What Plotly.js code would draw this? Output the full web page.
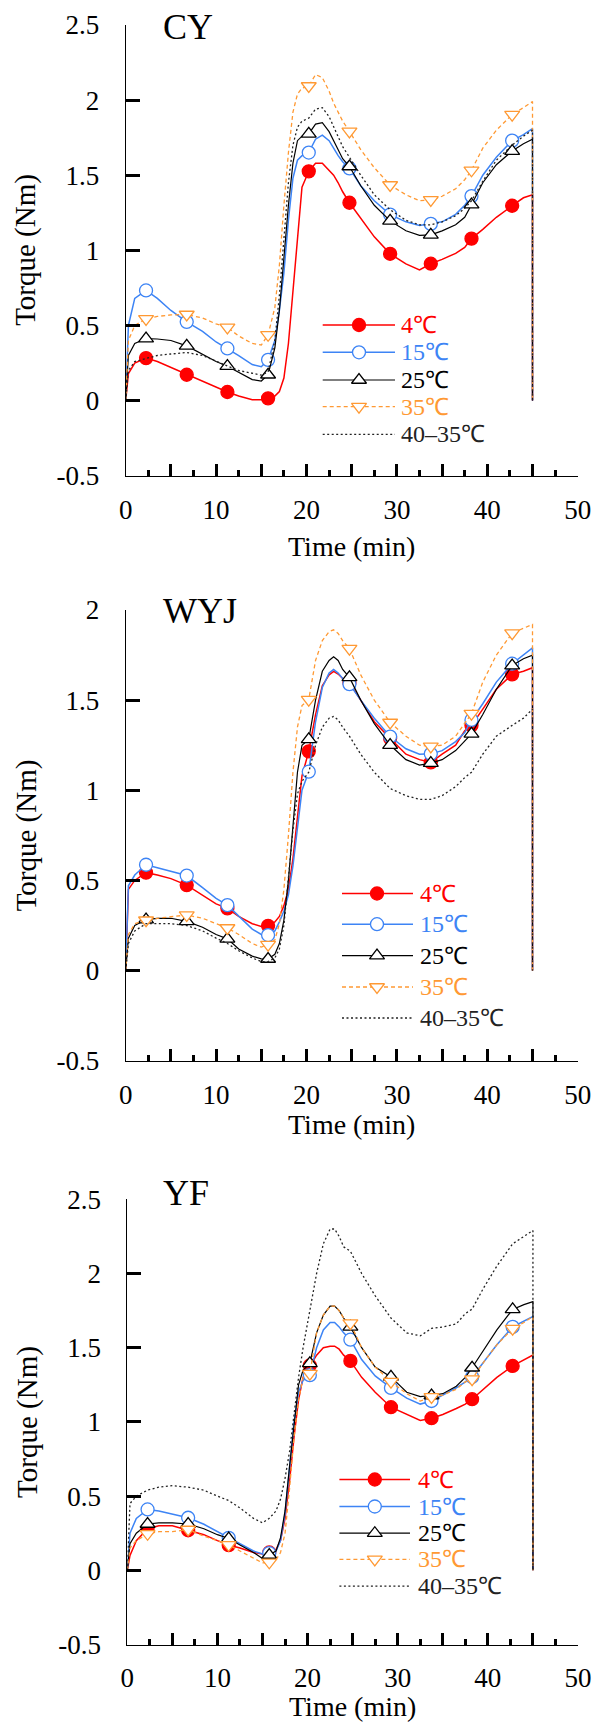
<!DOCTYPE html>
<html><head><meta charset="utf-8">
<script src="https://cdn.plot.ly/plotly-3.0.1.min.js"></script>
<style>html,body{margin:0;padding:0;background:#fff}</style>
</head><body><div id="chart" style="width:594px;height:1723px"></div>
<script>
// ---------- DATA ----------
const time = [0, 0.3, 1, 2.25, 3.5, 5, 6.75, 8.5, 10, 11.25, 12.5, 14, 15, 15.75, 16.5, 17, 17.5, 18, 18.5, 19, 19.5, 20.25, 21, 21.75, 22.5, 23, 23.5, 24, 24.75, 26, 27.5, 29.25, 31, 32.5, 33.75, 35, 36.5, 37.5, 38.25, 39.5, 41, 42.75, 44, 45, 45];
const markerTimes = [2.25, 6.75, 11.25, 15.75, 20.25, 24.75, 29.25, 33.75, 38.25, 42.75];
const seriesNames = ['4℃', '15℃', '25℃', '35℃', '40–35℃'];
const panelNames = ['CY', 'WYJ', 'YF'];
const xTitle = 'Time (min)';
const yTitle = 'Torque (Nm)';

const cy4 = [0, 0.18, 0.25, 0.283, 0.26, 0.22, 0.172, 0.13, 0.09, 0.057, 0.03, 0.005, 0.005, 0.015, 0.03, 0.06, 0.15, 0.38, 0.72, 1.1, 1.42, 1.526, 1.58, 1.58, 1.53, 1.5, 1.45, 1.39, 1.317, 1.21, 1.09, 0.977, 0.91, 0.87, 0.911, 0.94, 0.98, 1.02, 1.078, 1.14, 1.22, 1.297, 1.35, 1.37, 0];
const cy15 = [0, 0.5, 0.68, 0.733, 0.68, 0.6, 0.524, 0.46, 0.39, 0.347, 0.3, 0.24, 0.225, 0.271, 0.4, 0.6, 0.85, 1.2, 1.48, 1.6, 1.63, 1.651, 1.74, 1.767, 1.73, 1.68, 1.63, 1.59, 1.546, 1.43, 1.33, 1.238, 1.19, 1.165, 1.176, 1.19, 1.24, 1.3, 1.361, 1.5, 1.62, 1.73, 1.77, 1.81, 0];
const cy25 = [0, 0.3, 0.38, 0.413, 0.41, 0.4, 0.364, 0.31, 0.26, 0.229, 0.19, 0.14, 0.13, 0.172, 0.35, 0.6, 0.95, 1.3, 1.58, 1.73, 1.76, 1.775, 1.84, 1.85, 1.79, 1.73, 1.67, 1.61, 1.558, 1.43, 1.3, 1.196, 1.13, 1.1, 1.103, 1.13, 1.17, 1.22, 1.304, 1.45, 1.57, 1.661, 1.71, 1.74, 0];
const cy35 = [0, 0.4, 0.5, 0.544, 0.56, 0.57, 0.573, 0.55, 0.51, 0.487, 0.43, 0.38, 0.37, 0.438, 0.62, 0.9, 1.3, 1.65, 1.92, 2.04, 2.08, 2.094, 2.17, 2.15, 2.06, 1.98, 1.92, 1.86, 1.792, 1.67, 1.55, 1.435, 1.37, 1.33, 1.336, 1.36, 1.41, 1.47, 1.533, 1.68, 1.8, 1.903, 1.95, 1.99, 0];
const cy4035 = [0, 0.2, 0.26, 0.28, 0.3, 0.31, 0.32, 0.3, 0.26, 0.23, 0.2, 0.18, 0.17, 0.19, 0.4, 0.7, 1.1, 1.45, 1.7, 1.82, 1.86, 1.88, 1.94, 1.95, 1.89, 1.82, 1.75, 1.69, 1.62, 1.5, 1.37, 1.27, 1.2, 1.17, 1.17, 1.19, 1.23, 1.28, 1.33, 1.46, 1.6, 1.7, 1.76, 1.8, 0];

const wyj4 = [0, 0.45, 0.5, 0.543, 0.53, 0.51, 0.474, 0.42, 0.37, 0.345, 0.3, 0.26, 0.245, 0.248, 0.27, 0.3, 0.36, 0.45, 0.62, 0.85, 1.08, 1.216, 1.42, 1.58, 1.64, 1.66, 1.645, 1.62, 1.596, 1.5, 1.38, 1.288, 1.2, 1.17, 1.155, 1.2, 1.25, 1.33, 1.36, 1.45, 1.56, 1.643, 1.66, 1.68, 0];
const wyj15 = [0, 0.47, 0.53, 0.587, 0.57, 0.55, 0.527, 0.46, 0.4, 0.363, 0.3, 0.23, 0.2, 0.197, 0.22, 0.27, 0.33, 0.42, 0.58, 0.8, 1.0, 1.103, 1.38, 1.57, 1.65, 1.67, 1.65, 1.62, 1.589, 1.5, 1.4, 1.298, 1.23, 1.2, 1.202, 1.22, 1.27, 1.32, 1.39, 1.48, 1.6, 1.702, 1.75, 1.79, 0];
const wyj25 = [0, 0.18, 0.25, 0.283, 0.29, 0.29, 0.273, 0.24, 0.2, 0.176, 0.12, 0.08, 0.065, 0.064, 0.09, 0.15, 0.28, 0.5, 0.8, 1.1, 1.25, 1.282, 1.5, 1.66, 1.72, 1.74, 1.72, 1.67, 1.626, 1.5, 1.37, 1.251, 1.17, 1.14, 1.151, 1.17, 1.22, 1.27, 1.313, 1.42, 1.56, 1.692, 1.73, 1.75, 0];
const wyj35 = [0, 0.2, 0.26, 0.279, 0.29, 0.3, 0.308, 0.29, 0.26, 0.236, 0.2, 0.15, 0.13, 0.144, 0.17, 0.26, 0.45, 0.75, 1.1, 1.35, 1.47, 1.503, 1.72, 1.83, 1.88, 1.89, 1.87, 1.83, 1.786, 1.64, 1.5, 1.376, 1.3, 1.25, 1.243, 1.25, 1.3, 1.37, 1.425, 1.6, 1.75, 1.872, 1.9, 1.92, 0];
const wyj4035 = [0, 0.15, 0.22, 0.26, 0.26, 0.26, 0.25, 0.22, 0.18, 0.15, 0.11, 0.07, 0.05, 0.05, 0.07, 0.12, 0.25, 0.5, 0.78, 0.98, 1.05, 1.1, 1.25, 1.35, 1.4, 1.41, 1.39, 1.35, 1.3, 1.2, 1.1, 1.01, 0.97, 0.95, 0.95, 0.97, 1.02, 1.07, 1.1, 1.2, 1.3, 1.36, 1.4, 1.45, 0];

const yf4 = [0, 0.1, 0.2, 0.28, 0.3, 0.3, 0.27, 0.24, 0.2, 0.17, 0.15, 0.12, 0.11, 0.12, 0.14, 0.2, 0.35, 0.6, 0.9, 1.15, 1.3, 1.38, 1.45, 1.5, 1.51, 1.51, 1.49, 1.45, 1.411, 1.3, 1.2, 1.099, 1.05, 1.01, 1.025, 1.05, 1.09, 1.12, 1.153, 1.22, 1.3, 1.377, 1.42, 1.45, 0];
const yf15 = [0, 0.25, 0.35, 0.41, 0.4, 0.38, 0.354, 0.31, 0.26, 0.219, 0.18, 0.13, 0.11, 0.116, 0.13, 0.2, 0.38, 0.7, 1.0, 1.2, 1.28, 1.315, 1.5, 1.62, 1.67, 1.67, 1.64, 1.6, 1.554, 1.42, 1.31, 1.229, 1.16, 1.12, 1.141, 1.18, 1.23, 1.27, 1.303, 1.4, 1.52, 1.64, 1.68, 1.71, 0];
const yf25 = [0, 0.18, 0.25, 0.312, 0.32, 0.32, 0.312, 0.28, 0.24, 0.214, 0.17, 0.12, 0.08, 0.103, 0.13, 0.22, 0.4, 0.7, 1.0, 1.25, 1.35, 1.394, 1.6, 1.72, 1.78, 1.78, 1.75, 1.7, 1.64, 1.5, 1.37, 1.303, 1.2, 1.17, 1.178, 1.19, 1.24, 1.3, 1.365, 1.48, 1.62, 1.758, 1.79, 1.81, 0];
const yf35 = [0, 0.15, 0.2, 0.246, 0.26, 0.26, 0.275, 0.23, 0.2, 0.172, 0.13, 0.08, 0.05, 0.054, 0.07, 0.12, 0.25, 0.55, 0.9, 1.15, 1.3, 1.325, 1.6, 1.72, 1.78, 1.78, 1.75, 1.7, 1.665, 1.5, 1.37, 1.271, 1.19, 1.14, 1.168, 1.18, 1.22, 1.27, 1.288, 1.4, 1.52, 1.628, 1.67, 1.71, 0];
const yf4035 = [0, 0.45, 0.5, 0.54, 0.56, 0.57, 0.56, 0.54, 0.5, 0.47, 0.42, 0.35, 0.32, 0.35, 0.4, 0.48, 0.62, 0.8, 1.05, 1.3, 1.5, 1.75, 2.0, 2.2, 2.3, 2.3, 2.25, 2.18, 2.15, 2.0, 1.85, 1.7, 1.6, 1.58, 1.63, 1.64, 1.66, 1.73, 1.76, 1.9, 2.05, 2.2, 2.25, 2.29, 0];

const yTickValues = [-0.5, 0, 0.5, 1, 1.5, 2, 2.5];
const xTickValues = [0, 5, 10, 15, 20, 25, 30, 35, 40, 45, 50];
const xTickLabels = ['0', '', '10', '', '20', '', '30', '', '40', '', '50'];
const xMinorTickValues = [2.5, 7.5, 12.5, 17.5, 22.5, 27.5, 32.5, 37.5, 42.5, 47.5];
const panelYMax = [2.5, 2, 2.5];
const panelSeries = [
  [cy4, cy15, cy25, cy35, cy4035],
  [wyj4, wyj15, wyj25, wyj35, wyj4035],
  [yf4, yf15, yf25, yf35, yf4035]
];

// ---------- STYLE / GEOMETRY ----------
const W = 594, H = 1723;
const SERIF = 'Liberation Serif, serif';
const styles = [
  {color: '#FF0000', width: 1.5, dash: 'solid', symbol: 'circle', fill: '#FF0000', size: 13},
  {color: '#3D84F5', width: 1.5, dash: 'solid', symbol: 'circle', fill: '#FFFFFF', size: 13},
  {color: '#000000', width: 1.2, dash: 'solid', symbol: 'triangle-up', fill: '#FFFFFF', size: 13},
  {color: '#FF9933', width: 1.3, dash: '4px,3px', symbol: 'triangle-down', fill: '#FFFFFF', size: 13},
  {color: '#222222', width: 1.3, dash: '2px,2.5px', symbol: null}
];
const textColors = ['#FF0000', '#3D84F5', '#000000', '#FF9933', '#222222'];

// panel boxes in px
const boxes = [
  {x0: 125.7, x1: 577.7, y0: 25, y1: 475.7, xTitleY: 546, yTitleX: 25.5},
  {x0: 125.7, x1: 577.7, y0: 610, y1: 1060.7, xTitleY: 1124, yTitleX: 26},
  {x0: 127.3, x1: 578, y0: 1199.3, y1: 1644.5, xTitleY: 1706, yTitleX: 28}
];
const labelPos = [{x: 161, y: 27}, {x: 161, y: 611}, {x: 161, y: 1193}];
const legendPos = [
  {lx0: 322.7, lx1: 395, mx: 359, tx: 399, rows: [325, 352.3, 380, 406.7, 434.3]},
  {lx0: 342, lx1: 413, mx: 377, tx: 418, rows: [893.5, 924.2, 955.6, 987, 1018]},
  {lx0: 339.4, lx1: 410, mx: 374.8, tx: 416, rows: [1479.5, 1506.5, 1533.2, 1559.4, 1586.1]}
];

const markerIdx = time.map((t, i) => (markerTimes.includes(t) && i < time.length - 1) ? i : -1).filter(i => i >= 0);

const traces = [];
const layout = {
  width: W, height: H, margin: {l: 0, r: 0, t: 0, b: 0},
  paper_bgcolor: '#FFFFFF', plot_bgcolor: 'rgba(0,0,0,0)',
  showlegend: false, font: {family: SERIF, color: '#000'},
  annotations: []
};

panelSeries.forEach((series, p) => {
  const b = boxes[p];
  const sfx = p === 0 ? '' : String(p + 1);
  const xa = 'x' + sfx, ya = 'y' + sfx;
  series.forEach((vals, s) => {
    const st = styles[s];
    traces.push({
      type: 'scatter', mode: 'lines', x: time, y: vals, xaxis: xa, yaxis: ya,
      name: seriesNames[s], line: {color: st.color, width: st.width, dash: st.dash}, hoverinfo: 'skip'
    });
    if (st.symbol) {
      traces.push({
        type: 'scatter', mode: 'markers', xaxis: xa, yaxis: ya, name: seriesNames[s],
        x: markerIdx.map(i => time[i]), y: markerIdx.map(i => vals[i]),
        marker: {symbol: st.symbol, size: st.size, color: st.fill, line: {color: st.color, width: 1.3}},
        hoverinfo: 'skip'
      });
    }
  });
  const yt = yTickValues.filter(v => v <= panelYMax[p]);
  layout['xaxis' + sfx] = {
    domain: [b.x0 / W, b.x1 / W], anchor: ya, range: [0, 50],
    showline: true, linecolor: '#000', linewidth: 1.5,
    showgrid: false, zeroline: false,
    tickmode: 'array', tickvals: xTickValues, ticktext: xTickLabels,
    ticks: 'inside', ticklen: 12, tickwidth: 3, tickcolor: '#000',
    ticklabelstandoff: 9,
    minor: {tickmode: 'array', tickvals: xMinorTickValues, ticks: 'inside', ticklen: 6, tickwidth: 3, tickcolor: '#000', showgrid: false},
    tickfont: {family: SERIF, size: 27, color: '#000'},
    fixedrange: true
  };
  layout['yaxis' + sfx] = {
    domain: [1 - b.y1 / H, 1 - b.y0 / H], anchor: xa, range: [-0.5, panelYMax[p]],
    showline: true, linecolor: '#000', linewidth: 1, showgrid: false, zeroline: false,
    tickmode: 'array', tickvals: yt, ticktext: yt.map(v => String(v)),
    ticks: 'inside', ticklen: 14, tickwidth: 3, tickcolor: '#000',
    ticklabelstandoff: 20,
    tickfont: {family: SERIF, size: 27, color: '#000'},
    fixedrange: true
  };
  // axis titles
  layout.annotations.push({
    xref: 'paper', yref: 'paper', x: (b.x0 + b.x1) / 2 / W, y: 1 - b.xTitleY / H,
    xanchor: 'center', yanchor: 'middle', showarrow: false, text: xTitle,
    font: {family: SERIF, size: 28, color: '#000'}
  });
  layout.annotations.push({
    xref: 'paper', yref: 'paper', x: b.yTitleX / W, y: 1 - (b.y0 + b.y1) / 2 / H,
    xanchor: 'center', yanchor: 'middle', showarrow: false, text: yTitle, textangle: -90,
    font: {family: SERIF, size: 29, color: '#000'}
  });
  // panel label
  layout.annotations.push({
    xref: 'paper', yref: 'paper', x: labelPos[p].x / W, y: 1 - labelPos[p].y / H,
    xanchor: 'left', yanchor: 'middle', showarrow: false, text: panelNames[p],
    font: {family: SERIF, size: 36, color: '#000'}
  });
  // custom legend (pixel-space overlay axes)
  const lg = legendPos[p];
  seriesNames.forEach((nm, s) => {
    const st = styles[s];
    const yy = lg.rows[s];
    traces.push({
      type: 'scatter', mode: 'lines', xaxis: 'x4', yaxis: 'y4', x: [lg.lx0, lg.lx1], y: [yy, yy],
      line: {color: st.color, width: st.width, dash: st.dash}, hoverinfo: 'skip', name: nm
    });
    if (st.symbol) {
      traces.push({
        type: 'scatter', mode: 'markers', xaxis: 'x4', yaxis: 'y4', x: [lg.mx], y: [yy],
        marker: {symbol: st.symbol, size: st.size, color: st.fill, line: {color: st.color, width: 1.3}},
        hoverinfo: 'skip', name: nm
      });
    }
    layout.annotations.push({
      xref: 'paper', yref: 'paper', x: lg.tx / W, y: 1 - yy / H, xanchor: 'left', yanchor: 'middle',
      showarrow: false, text: nm, font: {family: SERIF, size: 24, color: textColors[s]}
    });
  });
});

layout.xaxis4 = {domain: [0, 1], range: [0, W], visible: false, fixedrange: true, anchor: 'y4'};
layout.yaxis4 = {domain: [0, 1], range: [H, 0], visible: false, fixedrange: true, anchor: 'x4'};

Plotly.newPlot('chart', traces, layout, {staticPlot: true, displayModeBar: false});
</script>
</body></html>
